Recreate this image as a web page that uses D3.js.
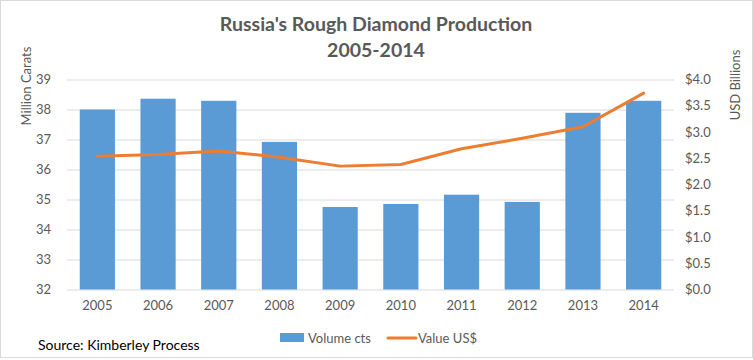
<!DOCTYPE html>
<html>
<head>
<meta charset="utf-8">
<script src="https://cdn.jsdelivr.net/npm/d3@7"></script>
<style>
  body { margin: 0; background: #fff; }
  text { font-family: Lato, "Open Sans", sans-serif; }
</style>
</head>
<body>
<div id="container"></div>
<script>
const years = ["2005", "2006", "2007", "2008", "2009", "2010", "2011", "2012", "2013", "2014"];
const volume = [38.0, 38.36, 38.29, 36.92, 34.75, 34.85, 35.16, 34.92, 37.89, 38.29];
const value = [2.54, 2.57, 2.64, 2.52, 2.35, 2.38, 2.68, 2.88, 3.1, 3.74];
const leftTicks = [32, 33, 34, 35, 36, 37, 38, 39];
const rightTicks = [0, 0.5, 1, 1.5, 2, 2.5, 3, 3.5, 4];

const W = 753, H = 360;
const margin = { top: 79.5, right: 79, bottom: 70.5, left: 67 };
const grey = "#595959";

const svg = d3.select("#container").append("svg")
  .attr("width", W).attr("height", H);

svg.append("rect")
  .attr("x", 0.5).attr("y", 0.5)
  .attr("width", W - 1).attr("height", H - 3)
  .attr("fill", "#fff").attr("stroke", "#d9d9d9");

const x = d3.scaleBand().domain(years)
  .range([margin.left, W - margin.right])
  .paddingInner(0.42).paddingOuter(0.21);
const yL = d3.scaleLinear().domain([32, 39]).range([H - margin.bottom, margin.top]);
const yR = d3.scaleLinear().domain([0, 4]).range([H - margin.bottom, margin.top]);

// gridlines
svg.append("g")
  .attr("transform", `translate(${margin.left},0)`)
  .call(d3.axisLeft(yL).tickValues(leftTicks).tickSize(-(W - margin.left - margin.right)).tickFormat(""))
  .call(g => g.select(".domain").remove())
  .call(g => g.selectAll("line").attr("stroke", "#d9d9d9"));

// left axis labels
svg.append("g")
  .attr("transform", `translate(${margin.left - 13},0)`)
  .call(d3.axisLeft(yL).tickValues(leftTicks).tickSize(0).tickFormat(d3.format("d")))
  .call(g => g.select(".domain").remove())
  .call(g => g.selectAll("text").attr("fill", grey).attr("font-size", 13));

// right axis labels
svg.append("g")
  .attr("transform", `translate(${W - margin.right + 8},0)`)
  .call(d3.axisRight(yR).tickValues(rightTicks).tickSize(0).tickFormat(d => "$" + d3.format(".1f")(d)))
  .call(g => g.select(".domain").remove())
  .call(g => g.selectAll("text").attr("fill", grey).attr("font-size", 13));

// x axis labels
svg.append("g")
  .attr("transform", `translate(0,${H - margin.bottom + 8})`)
  .call(d3.axisBottom(x).tickSize(0))
  .call(g => g.select(".domain").remove())
  .call(g => g.selectAll("text").attr("fill", grey).attr("font-size", 13));

// bars
svg.append("g").selectAll("rect")
  .data(volume)
  .join("rect")
  .attr("x", (d, i) => x(years[i]))
  .attr("width", x.bandwidth())
  .attr("y", d => yL(d))
  .attr("height", d => yL(32) - yL(d))
  .attr("fill", "#5b9bd5");

// line
const line = d3.line()
  .x((d, i) => x(years[i]) + x.bandwidth() / 2)
  .y(d => yR(d));
svg.append("path")
  .datum(value)
  .attr("d", line)
  .attr("fill", "none")
  .attr("stroke", "#ed7d31")
  .attr("stroke-width", 3)
  .attr("stroke-linejoin", "round")
  .attr("stroke-linecap", "round");

// titles
svg.append("text").attr("x", 376).attr("y", 31)
  .attr("text-anchor", "middle").attr("font-size", 19.5).attr("font-weight", "bold")
  .attr("fill", grey).text("Russia's Rough Diamond Production");
svg.append("text").attr("x", 376).attr("y", 57)
  .attr("text-anchor", "middle").attr("font-size", 19.5).attr("font-weight", "bold")
  .attr("fill", grey).text("2005-2014");

svg.append("text")
  .attr("transform", "translate(31,86) rotate(-90)")
  .attr("text-anchor", "middle").attr("font-size", 13).attr("fill", grey)
  .text("Million Carats");
svg.append("text")
  .attr("transform", "translate(740,85) rotate(-90)")
  .attr("text-anchor", "middle").attr("font-size", 13).attr("fill", grey)
  .text("USD Billions");

// legend
const lg = svg.append("g").attr("transform", "translate(0,338)");
lg.append("rect").attr("x", 280).attr("y", -5).attr("width", 24).attr("height", 9).attr("fill", "#5b9bd5");
lg.append("text").attr("x", 308).attr("y", 5).attr("font-size", 13).attr("fill", grey).text("Volume cts");
lg.append("line").attr("x1", 388).attr("x2", 416).attr("y1", 0).attr("y2", 0)
  .attr("stroke", "#ed7d31").attr("stroke-width", 3).attr("stroke-linecap", "round");
lg.append("text").attr("x", 418).attr("y", 5).attr("font-size", 13).attr("fill", grey).text("Value US$");

svg.append("text").attr("x", 38).attr("y", 350)
  .attr("font-size", 14).attr("fill", "#000")
  .text("Source: Kimberley Process");
</script>
</body>
</html>
